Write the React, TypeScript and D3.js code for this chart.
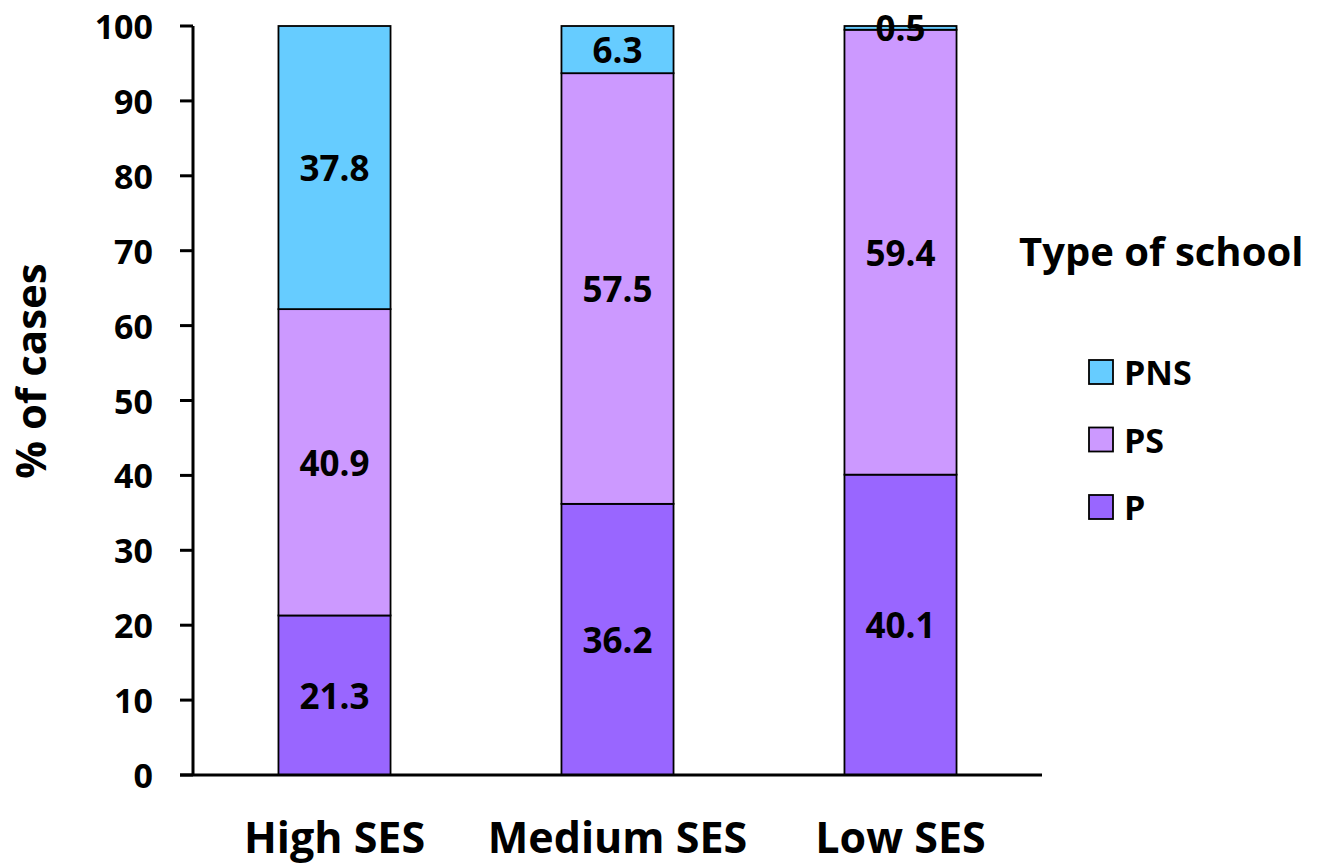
import React from "react";
import * as d3 from "d3";

const categories = ["High SES", "Medium SES", "Low SES"];
const seriesNames = ["P", "PS", "PNS"];
const pValues = [21.3, 36.2, 40.1];
const psValues = [40.9, 57.5, 59.4];
const pnsValues = [37.8, 6.3, 0.5];
const yTicks = [0, 10, 20, 30, 40, 50, 60, 70, 80, 90, 100];
const colors: Record<string, string> = { P: "#9966FF", PS: "#CC99FF", PNS: "#66CCFF" };
const legendOrder = ["PNS", "PS", "P"];

const W = 1323;
const H = 867;
const FONT = "'Open Sans', 'DejaVu Sans', sans-serif";

export default function App() {
  const x = d3.scaleBand<string>().domain(categories).range([193, 1042]).paddingInner(0.604).paddingOuter(0.302);
  const y = d3.scaleLinear().domain([0, 100]).range([775, 26]);

  const rows = categories.map((c, i) => ({ cat: c, P: pValues[i], PS: psValues[i], PNS: pnsValues[i] }));
  const stacked = d3.stack<any>().keys(seriesNames)(rows);

  return (
    <svg width={W} height={H} style={{ position: "absolute", left: 0, top: 0, background: "#fff" }}>
      {/* stacked bars */}
      {stacked.map((layer) => (
        <g key={layer.key}>
          {layer.map((d, i) => (
            <rect
              key={i}
              x={x(categories[i])!}
              y={y(d[1])}
              width={x.bandwidth()}
              height={y(d[0]) - y(d[1])}
              fill={colors[layer.key]}
              stroke="#000"
              strokeWidth={1.8}
            />
          ))}
        </g>
      ))}
      {/* value labels */}
      {stacked.map((layer) => (
        <g key={"l" + layer.key}>
          {layer.map((d, i) => (
            <text
              key={i}
              x={x(categories[i])! + x.bandwidth() / 2}
              y={y((d[0] + d[1]) / 2)}
              textAnchor="middle"
              dominantBaseline="central"
              fontFamily={FONT}
              fontWeight={700}
              fontSize={35}
              fill="#000"
            >
              {(d[1] - d[0]).toFixed(1)}
            </text>
          ))}
        </g>
      ))}
      {/* y axis */}
      <line x1={193} x2={193} y1={y(100)} y2={y(0)} stroke="#000" strokeWidth={3} />
      {yTicks.map((t) => (
        <g key={t}>
          <line x1={180} x2={193} y1={y(t)} y2={y(t)} stroke="#000" strokeWidth={3} />
          <text
            x={153}
            y={y(t)}
            textAnchor="end"
            dominantBaseline="central"
            fontFamily={FONT}
            fontWeight={700}
            fontSize={34}
            fill="#000"
          >
            {t}
          </text>
        </g>
      ))}
      {/* x axis */}
      <line x1={180} x2={1042} y1={y(0)} y2={y(0)} stroke="#000" strokeWidth={3} />
      {categories.map((c) => (
        <text
          key={c}
          x={x(c)! + x.bandwidth() / 2}
          y={853}
          textAnchor="middle"
          fontFamily={FONT}
          fontWeight={700}
          fontSize={43}
          fill="#000"
        >
          {c}
        </text>
      ))}
      {/* y axis title */}
      <text
        transform={`translate(46,${371}) rotate(-90)`}
        textAnchor="middle"
        fontFamily={FONT}
        fontWeight={700}
        fontSize={42}
        fill="#000"
      >
        % of cases
      </text>
      {/* legend */}
      <text x={1019} y={266} fontFamily={FONT} fontWeight={700} fontSize={40} fill="#000">
        Type of school
      </text>
      {legendOrder.map((k, i) => {
        const cy = 372 + i * 67.5;
        return (
          <g key={k}>
            <rect x={1089} y={cy - 12} width={24} height={24} fill={colors[k]} stroke="#000" strokeWidth={1.8} />
            <text
              x={1124}
              y={cy}
              dominantBaseline="central"
              fontFamily={FONT}
              fontWeight={700}
              fontSize={34}
              fill="#000"
            >
              {k}
            </text>
          </g>
        );
      })}
    </svg>
  );
}
